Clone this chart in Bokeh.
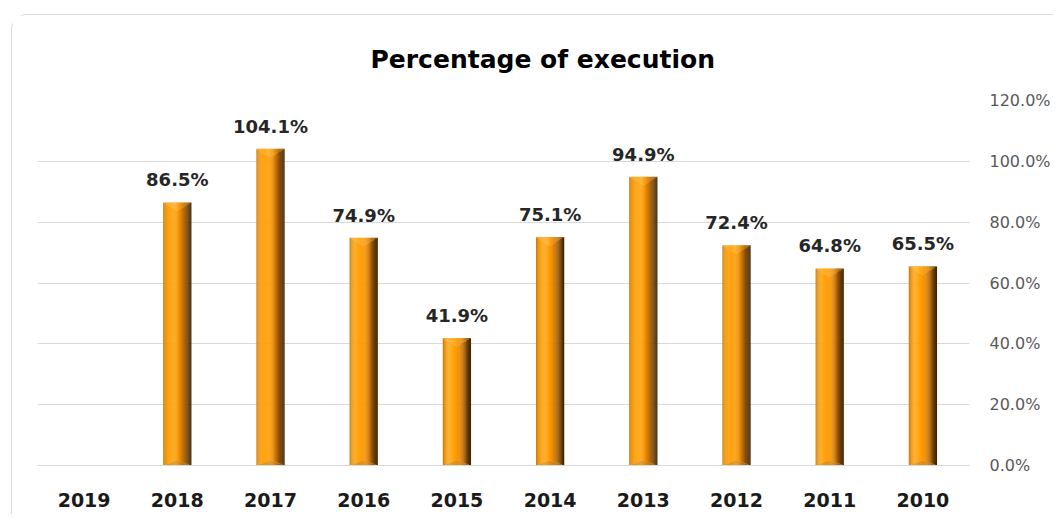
from bokeh.plotting import figure
from bokeh.models import ColumnDataSource, FactorRange, Range1d, CustomJSTickFormatter
from bokeh.transform import dodge
from bokeh.core.properties import value
from bokeh.embed import file_html
from bokeh.resources import INLINE

years = ["2019", "2018", "2017", "2016", "2015", "2014", "2013", "2012", "2011", "2010"]
execution_pct = [None, 86.5, 104.1, 74.9, 41.9, 75.1, 94.9, 72.4, 64.8, 65.5]
title_text = "Percentage of execution"
y_ticks = [0, 20, 40, 60, 80, 100, 120]

bar_years = [y for y, v in zip(years, execution_pct) if v is not None]
bar_vals = [v for v in execution_pct if v is not None]
labels = ["%.1f%%" % v for v in bar_vals]
src = ColumnDataSource(data=dict(year=bar_years, val=bar_vals, label=labels))

p = figure(x_range=FactorRange(*years), y_range=Range1d(0, 120),
           width=1042, height=500, output_backend="svg", toolbar_location=None,
           y_axis_location="right", min_border_left=25, min_border_right=85,
           min_border_top=84, min_border_bottom=50,
           margin=(14, 0, 0, 11),
           styles={"border-top": "1px solid #d9d9d9", "border-left": "1px solid #d9d9d9",
                   "border-top-left-radius": "16px"})
p.outline_line_color = None
p.background_fill_color = "white"
p.border_fill_color = "white"


# ---- styling helpers for the bevelled bars (style only, not data) ----
def hex2rgb(h):
    return tuple(int(h[i:i + 2], 16) for i in (1, 3, 5))


def rgb2hex(c):
    return "#%02x%02x%02x" % tuple(max(0, min(255, int(round(v)))) for v in c)


def mix(a, b, t):
    return tuple(x + (y - x) * t for x, y in zip(a, b))


stops = [(0.0, "#c07c14"), (0.08, "#ec9410"), (0.2, "#ffa618"), (0.42, "#ffa008"),
         (0.58, "#f08e02"), (0.72, "#c06c02"), (0.85, "#7a4602"), (1.0, "#3a2002")]


def grad_color(t):
    for (t0, c0), (t1, c1) in zip(stops[:-1], stops[1:]):
        if t <= t1:
            return mix(hex2rgb(c0), hex2rgb(c1), (t - t0) / (t1 - t0))
    return hex2rgb(stops[-1][1])


bw = 0.30
n = 30
sw = bw / n
cap_h = 2.8     # height of top bevel in data units
base_h = 1.8    # height of bottom bevel
for i in range(n):
    t = (i + 0.5) / n
    off = -bw / 2 + t * bw
    k = 1 - abs(2 * t - 1)
    base = grad_color(t)
    body = rgb2hex(base)
    cap = rgb2hex(mix(base, hex2rgb("#ffb232"), 0.6 if t < 0.5 else 0.35))
    foot = rgb2hex(mix(base, hex2rgb("#c88020"), 0.45))
    x = dodge("year", off, range=p.x_range)
    p.vbar(x=x, top=dodge("val", -cap_h * k), bottom=base_h * k, width=sw * 1.35,
           source=src, fill_color=body, line_color=None)
    p.vbar(x=x, top="val", bottom=dodge("val", -cap_h * k), width=sw * 1.35,
           source=src, fill_color=cap, line_color=None)
    p.vbar(x=x, top=base_h * k, bottom=0, width=sw * 1.35,
           source=src, fill_color=foot, line_color=None)

p.text(x="year", y="val", text="label", source=src, y_offset=-12,
       text_align="center", text_baseline="bottom",
       text_font=value("DejaVu Sans"), text_font_style="bold",
       text_font_size="18px", text_color="#262626")

p.title.text = title_text
p.title.align = "left"
p.title.text_font = "DejaVu Sans"
p.title.text_font_size = "25px"
p.title.text_font_style = "bold"
p.title.text_color = "#000000"
p.title.offset = 333
p.title.standoff = 54

p.xgrid.grid_line_color = None
p.ygrid.grid_line_color = "#d9d9d9"
p.ygrid.grid_line_width = 1

p.yaxis.ticker = y_ticks
p.yaxis.formatter = CustomJSTickFormatter(code="return tick.toFixed(1) + '%';")
p.yaxis.axis_line_color = None
p.yaxis.major_tick_line_color = None
p.yaxis.minor_tick_line_color = None
p.yaxis.major_tick_out = 0
p.yaxis.major_tick_in = 0
p.yaxis.minor_tick_out = 0
p.yaxis.major_label_standoff = 20
p.yaxis.major_label_text_font = "DejaVu Sans"
p.yaxis.major_label_text_font_size = "16px"
p.yaxis.major_label_text_color = "#595959"

p.xaxis.axis_line_color = "#d9d9d9"
p.xaxis.major_tick_line_color = None
p.xaxis.minor_tick_line_color = None
p.xaxis.major_label_standoff = 21
p.xaxis.major_label_text_font = "DejaVu Sans"
p.xaxis.major_label_text_font_style = "bold"
p.xaxis.major_label_text_font_size = "19px"
p.xaxis.major_label_text_color = "#1a1a1a"
p.x_range.range_padding = 0

open("out.html", "w").write(file_html(p, INLINE))
